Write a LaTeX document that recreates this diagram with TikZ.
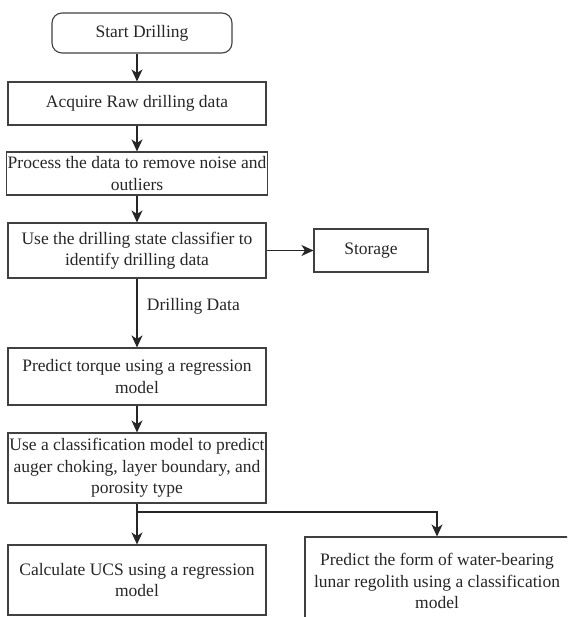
\documentclass[tikz,border=0pt]{standalone}
\usepackage{fontspec}
\setmainfont{Liberation Serif}
\usetikzlibrary{arrows.meta}

\begin{document}
\begin{tikzpicture}[x=1pt,y=-1pt,
        box/.style={draw=black!75,line width=1.1pt,align=center,inner sep=1pt,text=black!85,
            font=\fontsize{17.5}{21.5}\selectfont},
        arr/.style={draw=black!85,line width=1.2pt,-{Stealth[length=12pt,width=11pt,inset=3.5pt]}}]
                \clip (0,0) rectangle (567,617);

                \node[box,rounded corners=10pt,minimum width=180pt,minimum height=40pt] (start) at (142,33) {Start Drilling};
                \node[box,minimum width=258pt,minimum height=43pt] (acquire) at (137,103.5) {Acquire Raw drilling data};
                \node[box,minimum width=258pt,minimum height=43pt] (process) at (137,173.5) {Process the data to remove noise and\\outliers};
                \node[box,minimum width=258pt,minimum height=55pt] (classify) at (137,250.5) {Use the drilling state classifier to\\identify drilling data};
                \node[box,minimum width=114pt,minimum height=43pt] (storage) at (371,250.5) {Storage};
                \node[box,minimum width=258pt,minimum height=57pt] (torque) at (137,376.5) {Predict torque using a regression\\model};
                \node[box,minimum width=258pt,minimum height=70pt] (events) at (137,468) {Use a classification model to predict\\auger choking, layer boundary, and\\porosity type};
                \node[box,minimum width=258pt,minimum height=70pt] (ucs) at (137,580) {Calculate UCS using a regression\\model};
                \node[box,minimum width=264pt,minimum height=88pt] (water) at (437,581) {Predict the form of water-bearing\\lunar regolith using a classification\\model};

                \coordinate (split) at (137,512);

                \draw [arr] (start.south -| acquire) -- (acquire);
                \draw [arr] (acquire) -- (process);
                \draw [arr] (process) -- (classify);
                \draw [arr] (classify) -- (storage);
                \draw [arr] (classify) -- (torque) node[pos=.4,right=6pt,text=black!85,font=\fontsize{17.5}{21.5}\selectfont] (label) {Drilling Data};
                \draw [arr] (torque) -- (events);
                \draw [arr] (events) -- (ucs);
                \draw [arr] (split) -| (water.north);

            \end{tikzpicture}
\end{document}
